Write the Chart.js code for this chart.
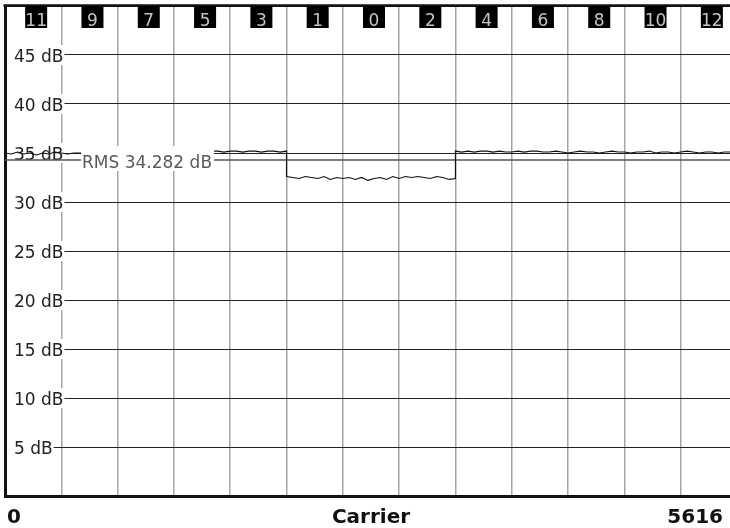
<!DOCTYPE html>
<html>
<head>
<meta charset="utf-8">
<script src="https://cdn.jsdelivr.net/npm/chart.js@4/dist/chart.umd.min.js"></script>
<style>
  html, body { margin: 0; padding: 0; background: #fff; overflow: hidden; }
  canvas { display: block; }
</style>
</head>
<body>
<canvas id="carrierChart" width="740" height="528"></canvas>
<script>
// carrier span and column labels along the top
const carrierMin = 0;
const carrierMax = 5616;
const columnWidth = 432;
const columnLabels = ['11', '9', '7', '5', '3', '1', '0', '2', '4', '6', '8', '10', '12'];
const xTitle = 'Carrier';

// level axis
const yTicks = [5, 10, 15, 20, 25, 30, 35, 40, 45];
const yMin = 0;
const yMax = 50;

// measured level per carrier (dB)
const leftCarriers = [0, 48, 96, 144, 192, 240, 288, 336, 384, 432, 480, 528, 576, 624, 672, 720,
  768, 816, 864, 912, 960, 1008, 1056, 1104, 1152, 1200, 1248, 1296, 1344, 1392, 1440, 1488,
  1536, 1584, 1632, 1680, 1728, 1776, 1824, 1872, 1920, 1968, 2016, 2064, 2112, 2160];
const leftLevel = [35.0, 34.9, 35.1, 34.9, 35.0, 34.8, 35.0, 34.9, 35.1, 35.0, 34.9, 35.0, 35.0, 35.1, 35.2, 35.0,
  35.1, 35.1, 35.0, 35.2, 35.1, 35.0, 35.1, 35.2, 35.1, 35.0, 35.1, 35.1, 35.2, 35.0, 35.1, 35.2,
  35.1, 35.2, 35.2, 35.1, 35.2, 35.2, 35.1, 35.2, 35.2, 35.1, 35.2, 35.2, 35.1, 35.2];

const lowCarriers = [2160, 2208, 2256, 2304, 2352, 2400, 2448, 2496, 2544, 2592, 2640, 2688, 2736, 2784,
  2832, 2880, 2928, 2976, 3024, 3072, 3120, 3168, 3216, 3264, 3312, 3360, 3408, 3456];
const lowLevel = [32.6, 32.5, 32.4, 32.6, 32.5, 32.4, 32.6, 32.3, 32.5, 32.4, 32.5, 32.3, 32.5, 32.2,
  32.4, 32.5, 32.3, 32.6, 32.4, 32.6, 32.5, 32.6, 32.5, 32.4, 32.6, 32.5, 32.3, 32.4];

const rightCarriers = [3456, 3504, 3552, 3600, 3648, 3696, 3744, 3792, 3840, 3888, 3936, 3984, 4032, 4080,
  4128, 4176, 4224, 4272, 4320, 4368, 4416, 4464, 4512, 4560, 4608, 4656, 4704, 4752, 4800, 4848,
  4896, 4944, 4992, 5040, 5088, 5136, 5184, 5232, 5280, 5328, 5376, 5424, 5472, 5520, 5568, 5616];
const rightLevel = [35.2, 35.1, 35.2, 35.1, 35.2, 35.2, 35.1, 35.2, 35.1, 35.1, 35.2, 35.1, 35.2, 35.2,
  35.1, 35.1, 35.2, 35.1, 35.0, 35.1, 35.2, 35.1, 35.1, 35.0, 35.1, 35.2, 35.1, 35.1, 35.0, 35.1,
  35.1, 35.2, 35.0, 35.1, 35.1, 35.0, 35.1, 35.2, 35.1, 35.0, 35.1, 35.1, 35.0, 35.1, 35.1, 35.0];

const rmsDb = 34.282;
const rmsLabelCarrier = 591;

const carriers = [...leftCarriers, ...lowCarriers, ...rightCarriers];
const levels = [...leftLevel, ...lowLevel, ...rightLevel];

const labelFont = '17px "DejaVu Sans"';

const spectrumDecor = {
  id: 'spectrumDecor',
  beforeDatasetsDraw(chart) {
    const { ctx, chartArea, scales } = chart;
    const y = scales.y;
    ctx.save();
    // top frame line
    ctx.strokeStyle = '#111';
    ctx.lineWidth = 2.5;
    ctx.beginPath();
    ctx.moveTo(chartArea.left - 1.5, chartArea.top - 0.5);
    ctx.lineTo(chartArea.right, chartArea.top - 0.5);
    ctx.stroke();
    // level labels sit inside the plot on a white patch
    ctx.font = labelFont;
    ctx.textAlign = 'left';
    ctx.textBaseline = 'alphabetic';
    yTicks.forEach(v => {
      const py = y.getPixelForValue(v);
      const text = v + ' dB';
      const w = ctx.measureText(text).width;
      ctx.fillStyle = '#fff';
      ctx.fillRect(chartArea.left + 2, py - 10, 9 + w - 1, 20);
      ctx.fillStyle = '#222';
      ctx.fillText(text, chartArea.left + 9, py + 7);
    });
    ctx.restore();
  },
  afterDatasetsDraw(chart) {
    const { ctx, chartArea, scales } = chart;
    const x = scales.x;
    const y = scales.y;
    ctx.save();
    // RMS label
    ctx.font = labelFont;
    const rmsText = 'RMS ' + rmsDb.toFixed(3) + ' dB';
    const rx = x.getPixelForValue(rmsLabelCarrier);
    const ry = y.getPixelForValue(rmsDb);
    const rw = ctx.measureText(rmsText).width;
    ctx.fillStyle = '#fff';
    ctx.fillRect(rx - 1, ry - 14, rw + 3, 25);
    ctx.fillStyle = '#5a5a5a';
    ctx.textAlign = 'left';
    ctx.fillText(rmsText, rx, ry + 8);

    // column boxes along the top
    ctx.textAlign = 'center';
    columnLabels.forEach((lab, i) => {
      const cx = x.getPixelForValue((i + 0.5) * columnWidth) + 3;
      ctx.fillStyle = '#000';
      ctx.fillRect(cx - 11, chartArea.top, 22, 22);
      ctx.fillStyle = '#c4c4c4';
      ctx.fillText(lab, cx, chartArea.top + 20);
    });

    // carrier axis text
    ctx.fillStyle = '#111';
    ctx.font = 'bold 20px "DejaVu Sans"';
    const by = chartArea.bottom + 27;
    ctx.textAlign = 'left';
    ctx.fillText(String(carrierMin), x.getPixelForValue(carrierMin) + 2, by);
    ctx.textAlign = 'center';
    ctx.fillText(xTitle, (chartArea.left + chartArea.right) / 2, by);
    ctx.textAlign = 'right';
    ctx.fillText(String(carrierMax), x.getPixelForValue(carrierMax) - 14, by);
    ctx.restore();
  }
};

new Chart(document.getElementById('carrierChart'), {
  type: 'line',
  data: {
    datasets: [
      {
        data: carriers.map((c, i) => ({ x: c, y: levels[i] })),
        borderColor: '#111',
        borderWidth: 1.2,
        pointRadius: 0,
        tension: 0
      },
      {
        data: [{ x: carrierMin, y: rmsDb }, { x: carrierMax, y: rmsDb }],
        borderColor: '#555',
        borderWidth: 1.5,
        pointRadius: 0
      }
    ]
  },
  options: {
    responsive: false,
    animation: false,
    events: [],
    layout: { padding: { left: 5, top: 6, right: 3, bottom: 32 } },
    plugins: { legend: { display: false }, tooltip: { enabled: false } },
    scales: {
      x: {
        type: 'linear',
        min: carrierMin,
        max: carrierMax,
        ticks: { display: false, stepSize: columnWidth },
        grid: { color: '#a6a6a6', lineWidth: 1.5, drawTicks: false },
        border: { display: true, color: '#111', width: 3 }
      },
      y: {
        min: yMin,
        max: yMax,
        ticks: { display: false, stepSize: 5 },
        grid: { color: '#222', lineWidth: 1, drawTicks: false },
        border: { display: true, color: '#111', width: 3 }
      }
    }
  },
  plugins: [spectrumDecor]
});
</script>
</body>
</html>
